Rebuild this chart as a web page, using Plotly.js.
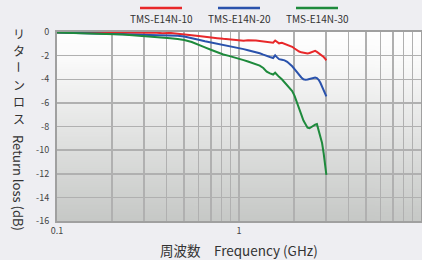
<!DOCTYPE html>
<html><head><meta charset="utf-8">
<script src="https://cdn.plot.ly/plotly-3.0.1.min.js"></script>
<style>html,body{margin:0;padding:0;background:#eeeef2;overflow:hidden}#chart{width:422px;height:260px}</style>
</head><body><div id="chart"></div>
<script>
const freq = [0.1,0.12,0.14,0.16,0.18,0.2,0.23,0.26,0.3,0.34,0.38,0.42,0.46,0.5,0.55,0.6,0.65,0.7,0.76,0.82,0.88,0.95,1.0,1.06,1.12,1.18,1.24,1.3,1.36,1.42,1.48,1.54,1.58,1.62,1.66,1.72,1.78,1.84,1.9,1.96,2.02,2.08,2.14,2.2,2.26,2.32,2.38,2.44,2.5,2.56,2.62,2.68,2.74,2.8,2.86,2.92,2.98,3.02];
const rl10 = [-0.05,-0.04,-0.06,-0.05,-0.07,-0.05,-0.08,-0.04,-0.07,-0.05,-0.1,-0.08,-0.14,-0.18,-0.26,-0.33,-0.4,-0.48,-0.52,-0.58,-0.62,-0.68,-0.72,-0.74,-0.7,-0.68,-0.72,-0.76,-0.8,-0.78,-0.86,-0.9,-0.72,-0.84,-0.96,-0.92,-1.0,-1.1,-1.18,-1.25,-1.4,-1.55,-1.65,-1.72,-1.76,-1.8,-1.82,-1.78,-1.72,-1.65,-1.6,-1.68,-1.78,-1.88,-2.0,-2.12,-2.28,-2.4];
const rl20 = [-0.05,-0.08,-0.1,-0.12,-0.13,-0.15,-0.16,-0.18,-0.2,-0.22,-0.24,-0.27,-0.32,-0.38,-0.5,-0.65,-0.78,-0.88,-0.98,-1.08,-1.15,-1.25,-1.35,-1.45,-1.55,-1.62,-1.7,-1.8,-1.92,-2.05,-2.12,-2.2,-1.98,-2.15,-2.3,-2.35,-2.4,-2.52,-2.7,-2.9,-3.15,-3.4,-3.65,-3.85,-4.0,-4.05,-4.02,-3.98,-3.92,-3.86,-3.85,-3.9,-4.05,-4.3,-4.6,-4.9,-5.2,-5.45];
const rl30 = [-0.05,-0.08,-0.1,-0.12,-0.15,-0.17,-0.22,-0.28,-0.34,-0.4,-0.45,-0.52,-0.6,-0.68,-0.85,-1.05,-1.3,-1.5,-1.72,-1.9,-2.02,-2.15,-2.25,-2.38,-2.5,-2.6,-2.7,-2.85,-3.05,-3.35,-3.5,-3.6,-3.45,-3.65,-3.8,-4.0,-4.25,-4.5,-4.75,-5.0,-5.4,-5.9,-6.4,-7.0,-7.5,-7.85,-8.1,-8.15,-8.05,-7.9,-7.85,-7.8,-8.4,-8.9,-9.4,-10.3,-11.3,-12.1];
const seriesNames = ['TMS-E14N-10','TMS-E14N-20','TMS-E14N-30'];
const xTickVals = [0.1,0.2,0.3,0.4,0.5,0.6,0.7,0.8,0.9,1,2,3,4,5,6,7,8,9,10];
const xTickText = ['0.1','','','','','','','','','1','','','','','','','','','10'];
const yTickVals = [0,-2,-4,-6,-8,-10,-12,-14,-16];
const yTickText = ['0','-2','-4','-6','-8','-10','-12','-14','-16'];
const yTitleJa = 'リターンロス';
const yTitleEn = 'Return loss (dB)';
const xTitle = '周波数　Frequency (GHz)';

const colors = ['#e8282a','#2a52ac','#1e8a3c'];
const font = '"Noto Sans CJK JP", "Noto Sans", sans-serif';

// gradient background image for plot area
const cv = document.createElement('canvas');
cv.width = 4; cv.height = 200;
const cx = cv.getContext('2d');
const g = cx.createLinearGradient(0,0,0,200);
g.addColorStop(0,'#ffffff');
g.addColorStop(0.15,'#fafafa');
g.addColorStop(1,'#c6c8c6');
cx.fillStyle = g; cx.fillRect(0,0,4,200);
const bgImg = cv.toDataURL();

const L = 57, T = 32, W = 364, H = 189;
const px = x => (x - L) / W;
const py = y => (T + H - y) / H;

const ys = [rl10, rl20, rl30];
const traces = ys.map((y,i)=>({
  x: freq, y: y, type:'scatter', mode:'lines', name: seriesNames[i],
  line:{color:colors[i], width:2}, showlegend:false
}));

const annotations = [];
const shapes = [];
const legCenters = [161, 239, 317];
seriesNames.forEach((n,i)=>{
  annotations.push({xref:'paper',yref:'paper',x:px(legCenters[i]),y:py(19),text:n,showarrow:false,
    xanchor:'center',yanchor:'middle',font:{family:font,size:10,color:'#333'}});
  shapes.push({type:'line',xref:'paper',yref:'paper',x0:px(legCenters[i]-21),x1:px(legCenters[i]+21),
    y0:py(8),y1:py(8),line:{color:colors[i],width:2.5}});
});
// vertical (stacked) Japanese title, one character per annotation
Array.from(yTitleJa).forEach((ch,i)=>{
  annotations.push({xref:'paper',yref:'paper',x:px(19),y:py(33+17*i),text:ch,showarrow:false,
    xanchor:'center',yanchor:'middle',textangle: ch==='ー'?90:0,
    font:{family:font,size:12,color:'#333'}});
});
annotations.push({xref:'paper',yref:'paper',x:px(19),y:py(183),text:yTitleEn,showarrow:false,
  xanchor:'center',yanchor:'middle',textangle:90,font:{family:font,size:13,color:'#333'}});
annotations.push({xref:'paper',yref:'paper',x:px(239),y:py(250),text:xTitle,showarrow:false,
  xanchor:'center',yanchor:'middle',font:{family:font,size:13.5,color:'#333'}});

const layout = {
  width:422, height:260,
  margin:{l:L, r:422-L-W, t:T, b:260-T-H, pad:0},
  paper_bgcolor:'#eeeef2', plot_bgcolor:'rgba(0,0,0,0)',
  font:{family:font, color:'#333'},
  xaxis:{type:'log', range:[-1,1], tickvals:xTickVals, ticktext:xTickText, showgrid:true,
    gridcolor:'#b0b0b0', gridwidth:1.5, showline:true, linecolor:'#a0a0a0', linewidth:2, mirror:true,
    ticks:'', tickfont:{size:9,color:'#444'}, zeroline:false, fixedrange:true},
  yaxis:{range:[-16,0], tickvals:yTickVals, ticktext:yTickText, showgrid:true,
    gridcolor:'#b0b0b0', gridwidth:1.5, showline:true, linecolor:'#a0a0a0', linewidth:2, mirror:true,
    ticks:'', tickfont:{size:9,color:'#444'}, zeroline:false, fixedrange:true, ticklabelstandoff:4},
  images:[{source:bgImg, xref:'paper', yref:'paper', x:0, y:1, sizex:1, sizey:1, sizing:'stretch', layer:'below', xanchor:'left', yanchor:'top'}],
  annotations: annotations,
  shapes: shapes,
  showlegend:false
};
Plotly.newPlot('chart', traces, layout, {displayModeBar:false, staticPlot:true});
</script>
</body></html>
